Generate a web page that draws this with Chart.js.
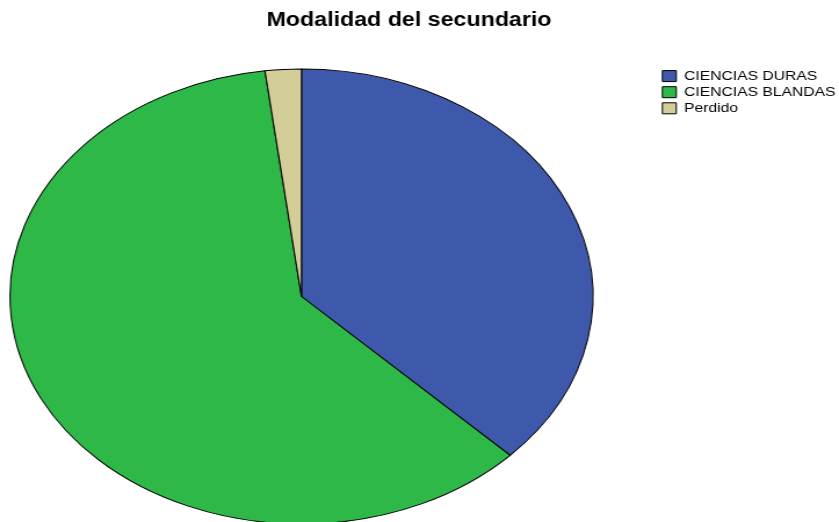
<!DOCTYPE html>
<html>
<head>
<meta charset="utf-8">
<script src="https://cdn.jsdelivr.net/npm/chart.js@4"></script>
<style>
  html, body { margin: 0; padding: 0; background: #fff; overflow: hidden; }
  /* the reference is stretched sideways, so the chart is drawn narrower and widened */
  #wrap { width: 723px; height: 522px; transform: scaleX(1.1604); transform-origin: 0 0; }
</style>
</head>
<body>
<div id="wrap"><canvas id="mainChart" width="723" height="522" style="width:723px;height:522px"></canvas></div>
<script>
const categories = ['CIENCIAS DURAS', 'CIENCIAS BLANDAS', 'Perdido'];
const percentages = [37.3, 60.7, 2.0];
const sliceColors = ['#3e58ac', '#2eb848', '#d3cd97'];

const FONT = "'Liberation Sans', Arial, Helvetica, sans-serif";

// squash the round pie into the ellipse of the reference
const ellipsePie = {
    id: 'ellipsePie',
    beforeDatasetsDraw(chart) {
        const arc = chart.getDatasetMeta(0).data[0];
        if (!arc) return;
        const R = arc.outerRadius;
        const ctx = chart.ctx;
        ctx.save();
        ctx.translate(259.8, 296.5);
        ctx.scale(251.2 / R, 227.5 / R);
        ctx.translate(-arc.x, -arc.y);
    },
    afterDatasetsDraw(chart) {
        chart.ctx.restore();
    },
    afterLayout(chart) {
        // put the legend at the top right as in the reference
        const legend = chart.legend;
        const w = legend.right - legend.left;
        legend.left = 568.2;
        legend.right = legend.left + w;
        const h = legend.bottom - legend.top;
        legend.top = 66.75;
        legend.bottom = legend.top + h;
    }
};

new Chart(document.getElementById('mainChart').getContext('2d'), {
    type: 'pie',
    data: {
        labels: categories,
        datasets: [{
            data: percentages,
            backgroundColor: sliceColors,
            borderColor: '#000',
            borderWidth: 1,
            clip: false
        }]
    },
    options: {
        responsive: false,
        animation: false,
        layout: { padding: { right: 18 } },
        plugins: {
            title: {
                display: true,
                text: 'Modalidad del secundario',
                color: '#000',
                font: { family: FONT, size: 20, weight: 'bold' },
                padding: { top: 8.5, bottom: 6 }
            },
            legend: {
                position: 'right',
                align: 'start',
                labels: {
                    color: '#000',
                    font: { family: FONT, size: 13.5 },
                    boxWidth: 12,
                    boxHeight: 11,
                    padding: 2.6
                }
            },
            tooltip: { enabled: false }
        }
    },
    plugins: [ellipsePie]
});
</script>
</body>
</html>
